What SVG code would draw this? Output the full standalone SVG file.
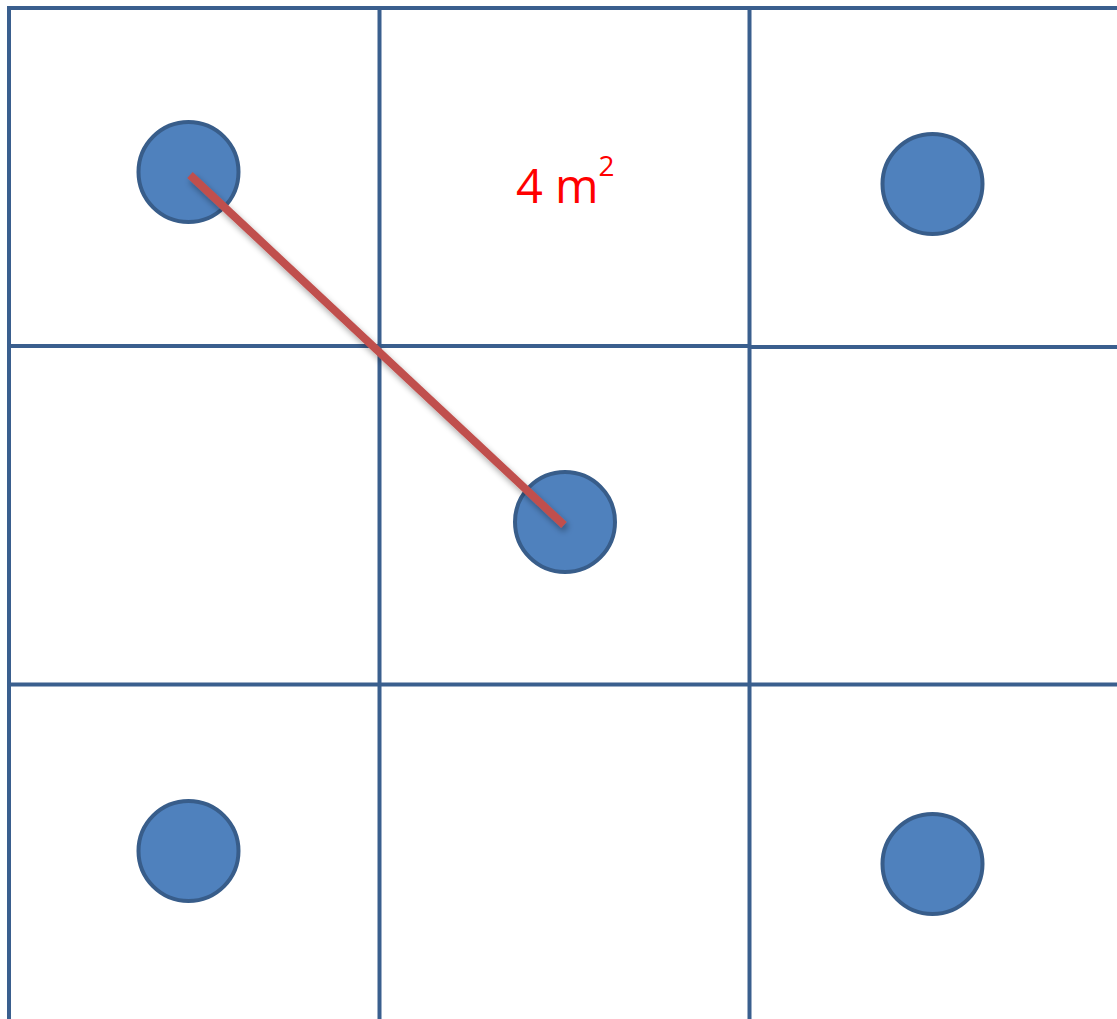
<svg xmlns="http://www.w3.org/2000/svg" width="1117" height="1019" viewBox="0 0 1117 1019">
<style>
.grid{stroke:#3A5F8E;stroke-width:4;fill:none}
.node circle{fill:#4F81BD;stroke:#385D8A;stroke-width:4}
.lbl{font-family:"Open Sans","Liberation Sans",sans-serif;fill:#FF0000}
</style>
<defs>
<filter id="sh" x="-20%" y="-20%" width="140%" height="140%">
<feGaussianBlur in="SourceAlpha" stdDeviation="3"/>
<feOffset dx="2" dy="4" result="b"/>
<feComponentTransfer><feFuncA type="linear" slope="0.35"/></feComponentTransfer>
<feMerge><feMergeNode/><feMergeNode in="SourceGraphic"/></feMerge>
</filter>
</defs>
<rect width="1117" height="1019" fill="#FFFFFF"/>
<g id="grid" class="grid">
<line x1="7" y1="8" x2="1117" y2="8"/>
<line x1="9" y1="6" x2="9" y2="1019"/>
<line x1="379.5" y1="8" x2="379.5" y2="1019"/>
<line x1="749.5" y1="8" x2="749.5" y2="1019"/>
<line x1="9" y1="346" x2="749.5" y2="346"/>
<line x1="749.5" y1="347" x2="1117" y2="347"/>
<line x1="9" y1="684.5" x2="1117" y2="684.5"/>
</g>
<g id="n1" class="node"><circle cx="188.5" cy="172" r="50"/></g>
<g id="n2" class="node"><circle cx="932.5" cy="184" r="50"/></g>
<g id="n3" class="node"><circle cx="565" cy="522" r="50"/></g>
<g id="n4" class="node"><circle cx="188.5" cy="851" r="50"/></g>
<g id="n5" class="node"><circle cx="932.5" cy="864" r="50"/></g>
<g id="connectors">
<line x1="190" y1="175" x2="564" y2="525" stroke="#C0504D" stroke-width="8" filter="url(#sh)"/>
</g>
<text class="lbl" x="516" y="203" font-size="47">4 m<tspan font-size="28" dy="-27">2</tspan></text>
</svg>
